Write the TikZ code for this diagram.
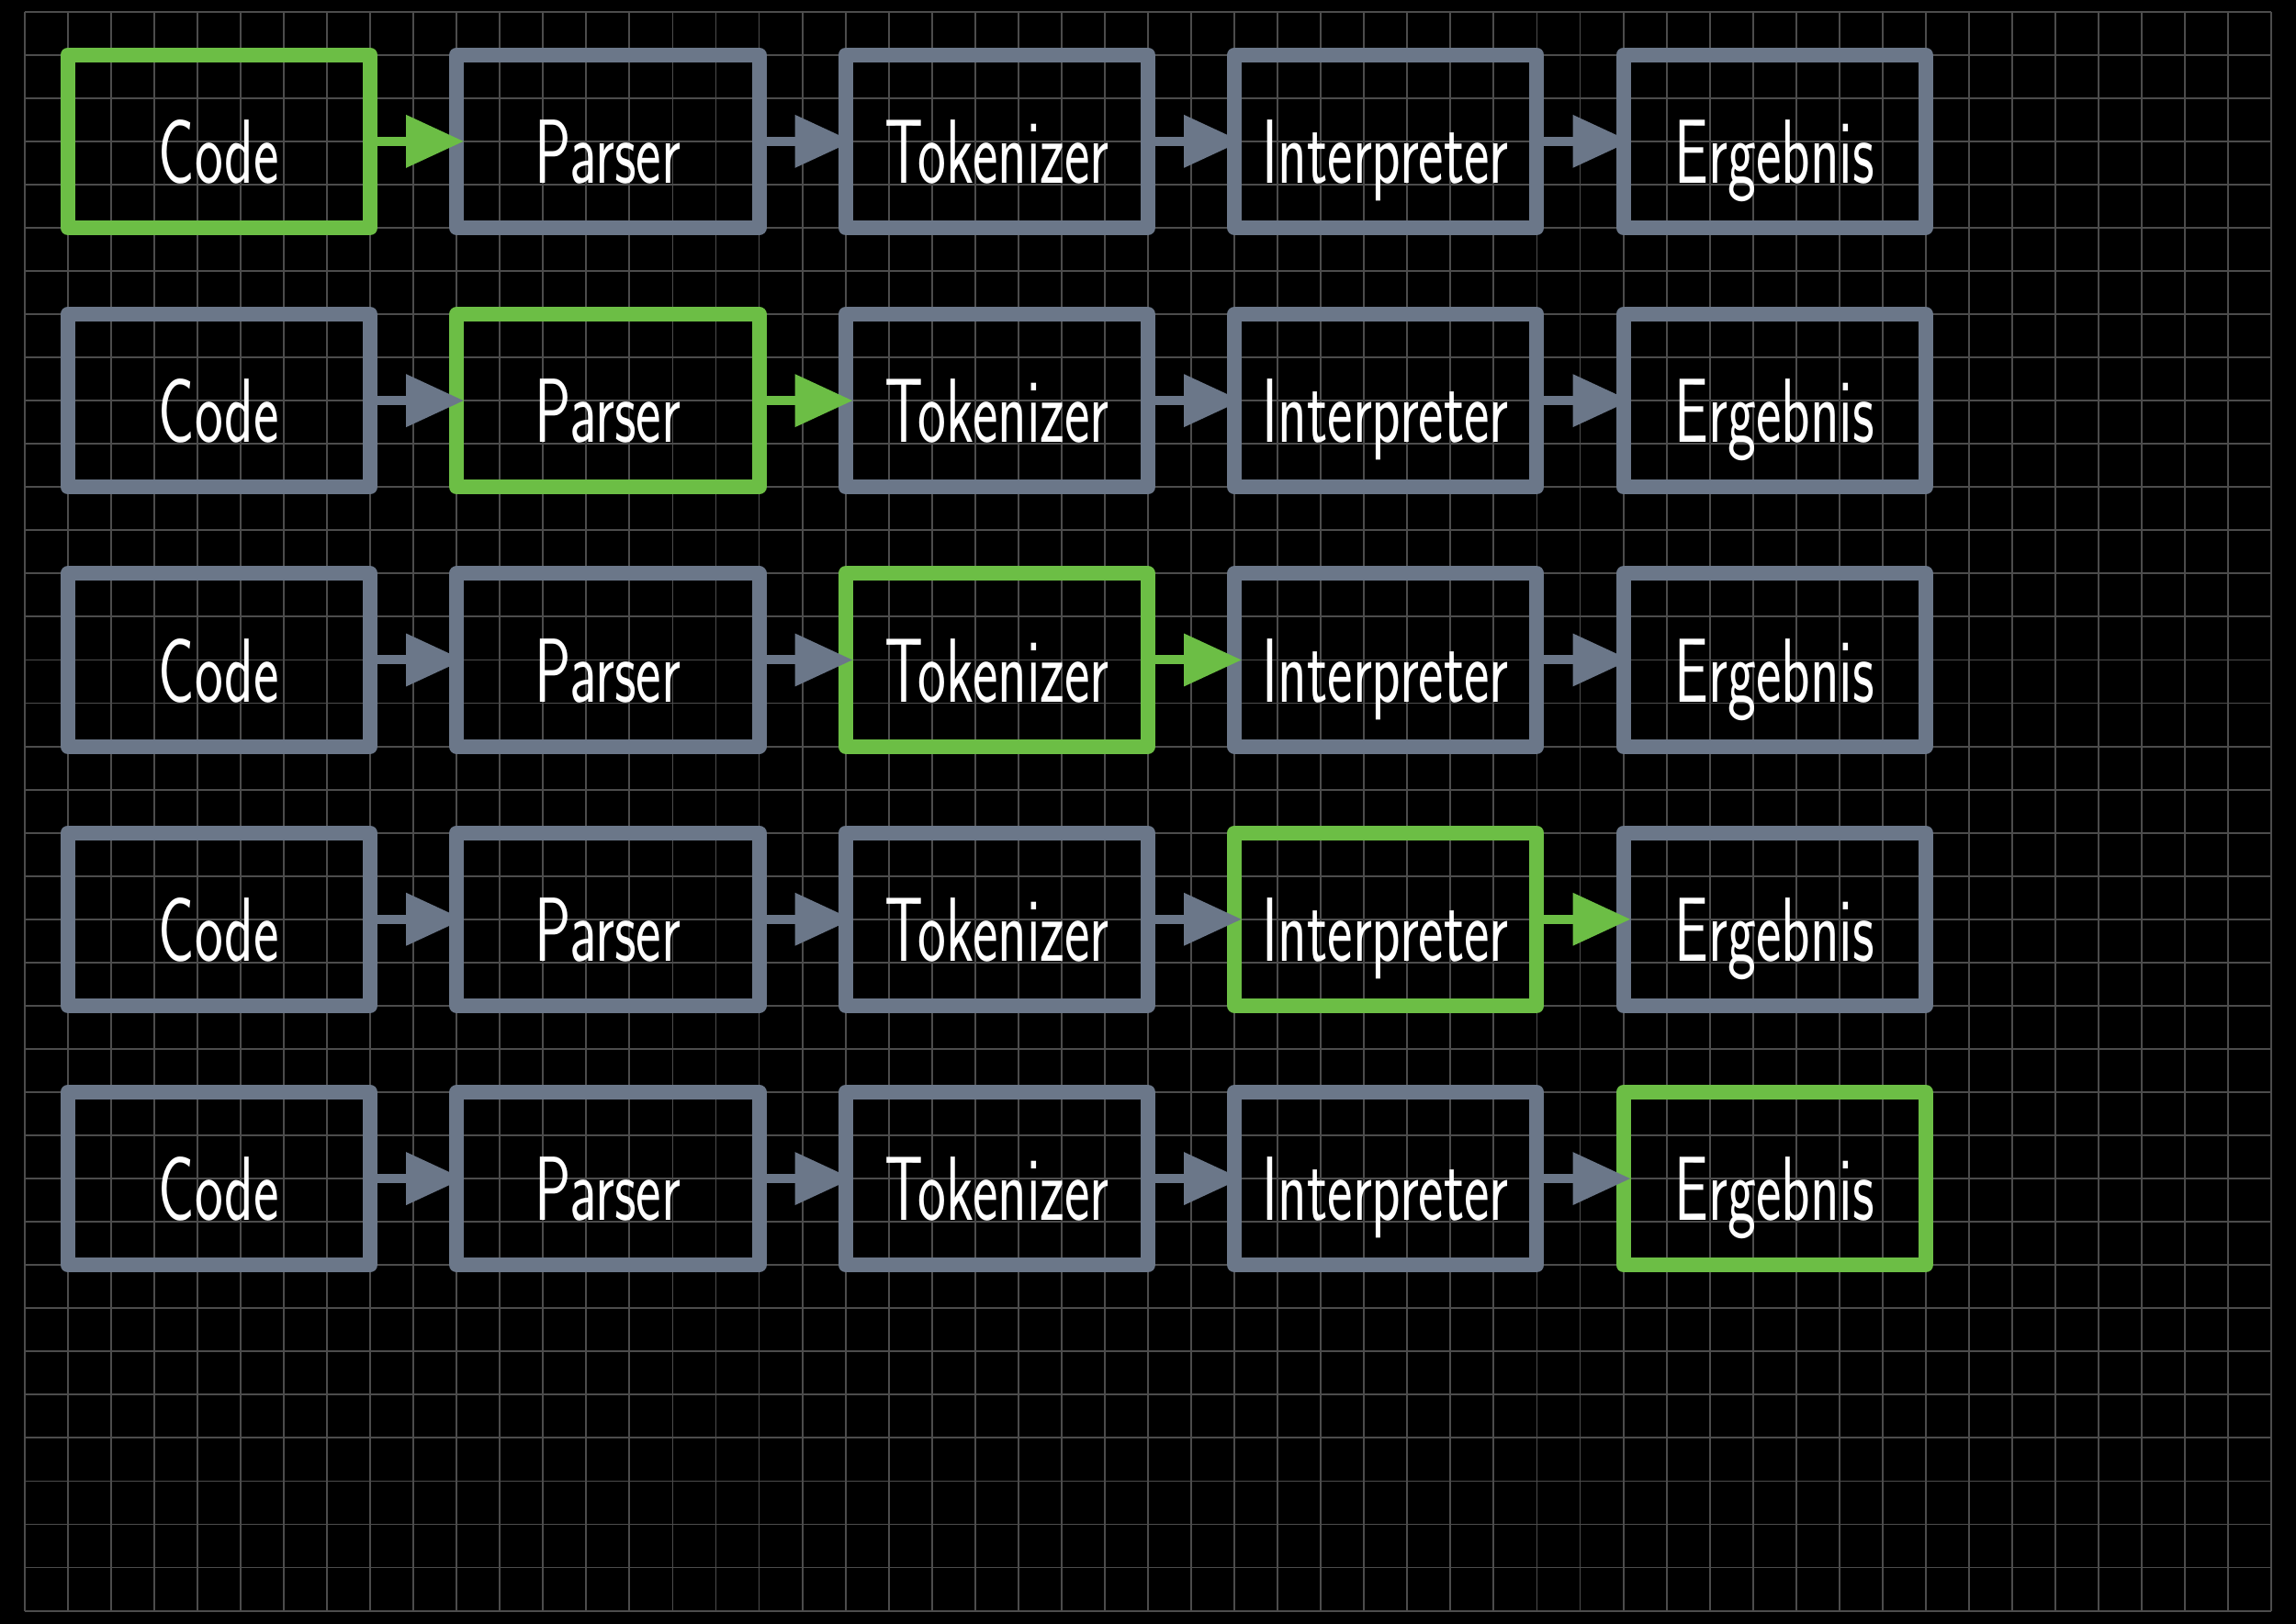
\documentclass[tikz,border=0pt]{standalone}
\usepackage{fontspec}
\usepackage{graphicx}
\usetikzlibrary{arrows.meta}

\definecolor{aktiv}{RGB}{108,190,69}
\definecolor{passiv}{RGB}{107,119,137}
\definecolor{gitter}{RGB}{76,76,76}

\newcommand{\hw}[1]{\scalebox{0.66}[1]{#1}}

\begin{document}
\begin{tikzpicture}[x=5mm, y=5mm,
  stufe/.style={draw=#1, line width=1.7mm, line join=round,
                minimum width=35mm, minimum height=20mm, inner sep=0pt, outer sep=0pt,
                text height=9.7mm, text depth=0mm,
                text=white, font=\sffamily\fontsize{30}{36}\selectfont},
  pfeil/.style={draw=#1, line width=1.06mm, -{Triangle[length=6.7mm, width=5.85mm]}, shorten >=-0.85mm}]

\fill[black] (-0.567,-0.297) rectangle (52.567,37.27);

\foreach \i in {0,1,...,52}{%
   \draw[gitter, line width=0.2mm] (\i,0) -- (\i,37);
}
\foreach \j in {0,1,...,37}{%
   \draw[gitter, line width=0.2mm] (0,\j) -- (52,\j);
}

\foreach \r in {0,...,4}{%
   \foreach \w [count=\c from 0] in {Code,Parser,Tokenizer,Interpreter,Ergebnis}{%
      \ifnum\c=\r \def\col{aktiv}\else\def\col{passiv}\fi
      \node[stufe=\col] (s\r\c) at ({4.5 + 9*\c}, {34 - 6*\r}) {\hw{\w}};
   }
   \foreach \c in {1,...,4}{%
      \pgfmathtruncatemacro{\p}{\c - 1}
      \ifnum\p=\r \def\col{aktiv}\else\def\col{passiv}\fi
      \draw[pfeil=\col] (s\r\p) -- (s\r\c);
   }
}

\end{tikzpicture}
\end{document}
